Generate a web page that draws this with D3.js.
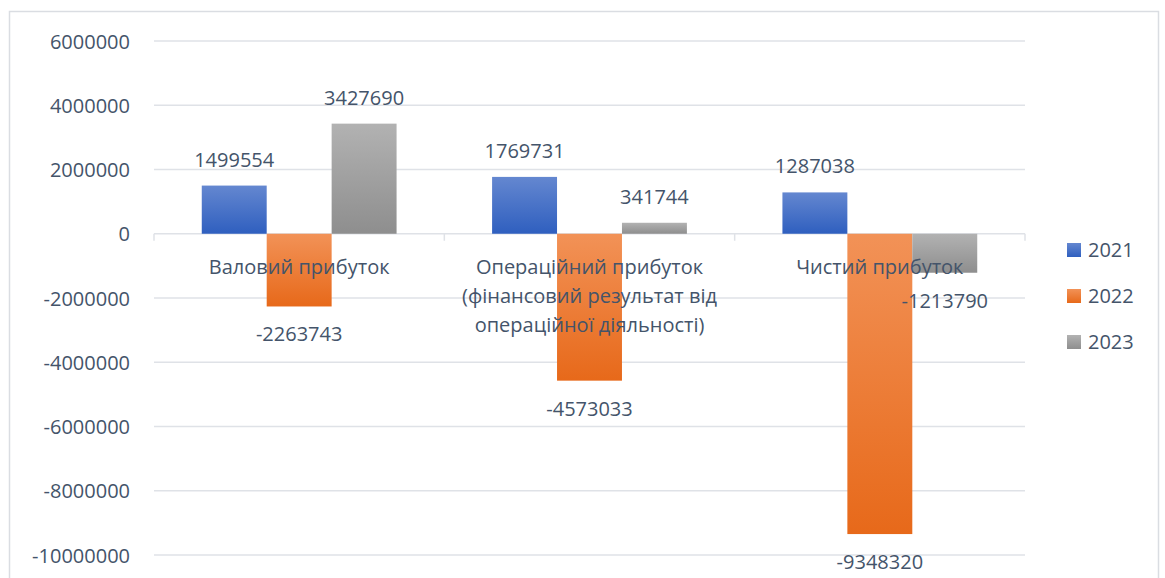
<!DOCTYPE html>
<html>
<head>
<meta charset="utf-8">
<script src="https://cdn.jsdelivr.net/npm/d3@7"></script>
<style>
  html, body { margin: 0; padding: 0; background: #ffffff; }
  svg { display: block; }
  text { font-family: "Open Sans", "Noto Sans", sans-serif; fill: #44546a; }
</style>
</head>
<body>
<svg id="chart" width="1165" height="578"></svg>
<script>
// Financial results by year (UAH)
const categories = [
  "Валовий прибуток",
  "Операційний прибуток\n(фінансовий результат від\nопераційної діяльності)",
  "Чистий прибуток"
];
const years = ["2021", "2022", "2023"];
const values2021 = [1499554, 1769731, 1287038];
const values2022 = [-2263743, -4573033, -9348320];
const values2023 = [3427690, 341744, -1213790];
const yTicks = [6000000, 4000000, 2000000, 0, -2000000, -4000000, -6000000, -8000000, -10000000];

const seriesValues = [values2021, values2022, values2023];
const series = years.map((year, i) => ({ year, values: seriesValues[i] }));

const colors = {
  "2021": ["#6487d0", "#2f5fbf"],
  "2022": ["#f29257", "#e7691a"],
  "2023": ["#b2b2b2", "#8e8e8e"]
};

const svg = d3.select("#chart");
const fontSize = 20;

// gradients: lighter at top, darker at bottom
const defs = svg.append("defs");
years.forEach(y => {
  const g = defs.append("linearGradient")
    .attr("id", "grad" + y)
    .attr("x1", 0).attr("y1", 0).attr("x2", 0).attr("y2", 1);
  g.append("stop").attr("offset", "0%").attr("stop-color", colors[y][0]);
  g.append("stop").attr("offset", "100%").attr("stop-color", colors[y][1]);
});

// outer chart frame
svg.append("rect")
  .attr("x", 9.5).attr("y", 11.5)
  .attr("width", 1149).attr("height", 600)
  .attr("fill", "none")
  .attr("stroke", "#dadde2")
  .attr("stroke-width", 1.5);

const plot = { left: 154, right: 1025, top: 41, bottom: 555 };

const y = d3.scaleLinear()
  .domain([-10000000, 6000000])
  .range([plot.bottom, plot.top]);

const x0 = d3.scaleBand()
  .domain(categories)
  .range([plot.left, plot.right])
  .paddingInner(0).paddingOuter(0);

const groupWidth = x0.bandwidth() * 0.671;
const x1 = d3.scaleBand()
  .domain(years)
  .range([(x0.bandwidth() - groupWidth) / 2, (x0.bandwidth() + groupWidth) / 2])
  .padding(0);

// horizontal gridlines
svg.append("g")
  .selectAll("line")
  .data(yTicks)
  .join("line")
  .attr("x1", plot.left).attr("x2", plot.right)
  .attr("y1", d => y(d)).attr("y2", d => y(d))
  .attr("stroke", "#dfe2e7")
  .attr("stroke-width", 1.5);

// y tick labels (plain hyphen for negatives)
const yAxis = d3.axisLeft(y).tickValues(yTicks).tickSize(0).tickPadding(0)
  .tickFormat(d => String(d));
const yg = svg.append("g").attr("transform", "translate(130,0)").call(yAxis);
yg.select(".domain").remove();
yg.selectAll("text")
  .attr("font-size", fontSize)
  .attr("font-family", null)
  .attr("fill", "#44546a")
  .attr("dy", "0.35em");

// bars
const groups = svg.append("g")
  .selectAll("g")
  .data(categories)
  .join("g")
  .attr("transform", d => `translate(${x0(d)},0)`);

groups.selectAll("rect")
  .data((c, ci) => series.map(s => ({ year: s.year, value: s.values[ci] })))
  .join("rect")
  .attr("x", d => x1(d.year))
  .attr("width", x1.bandwidth())
  .attr("y", d => Math.min(y(d.value), y(0)))
  .attr("height", d => Math.abs(y(d.value) - y(0)))
  .attr("fill", d => `url(#grad${d.year})`);

// category axis line and ticks between categories
const axisY = y(0);
const tickXs = [...categories.map(c => x0(c)), plot.right];
svg.append("g")
  .selectAll("line")
  .data(tickXs)
  .join("line")
  .attr("x1", d => d).attr("x2", d => d)
  .attr("y1", axisY).attr("y2", axisY + 7)
  .attr("stroke", "#dfe2e7")
  .attr("stroke-width", 1.5);

// value labels
groups.selectAll("text.value")
  .data((c, ci) => series.map(s => ({ year: s.year, value: s.values[ci] })))
  .join("text")
  .attr("class", "value")
  .attr("x", d => x1(d.year) + x1.bandwidth() / 2)
  .attr("y", d => d.value >= 0 ? y(d.value) - 26 : y(d.value) + 28)
  .attr("dy", "0.35em")
  .attr("text-anchor", "middle")
  .attr("font-size", fontSize)
  .text(d => String(d.value));

// category labels (drawn over bars)
const catLabels = svg.append("g")
  .selectAll("text")
  .data(categories)
  .join("text")
  .attr("text-anchor", "middle")
  .attr("font-size", fontSize)
  .attr("x", d => x0(d) + x0.bandwidth() / 2)
  .attr("y", axisY + 33);
catLabels.each(function(d) {
  const lines = d.split("\n");
  d3.select(this).selectAll("tspan")
    .data(lines)
    .join("tspan")
    .attr("x", x0(d) + x0.bandwidth() / 2)
    .attr("dy", (l, i) => i === 0 ? "0.35em" : 29)
    .text(l => l);
});

// legend
const legend = svg.append("g")
  .selectAll("g")
  .data(years)
  .join("g")
  .attr("transform", (d, i) => `translate(1067,${250 + i * 46})`);
legend.append("rect")
  .attr("x", 0).attr("y", -7)
  .attr("width", 14).attr("height", 14)
  .attr("fill", d => `url(#grad${d})`);
legend.append("text")
  .attr("x", 21).attr("y", 0)
  .attr("dy", "0.35em")
  .attr("font-size", fontSize)
  .text(d => d);
</script>
</body>
</html>
